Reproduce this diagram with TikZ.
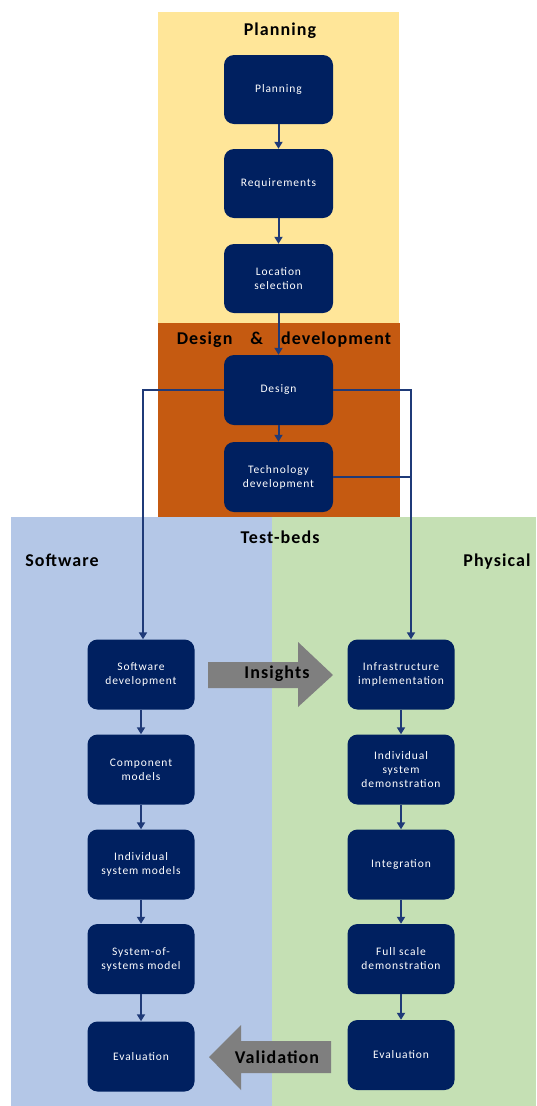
\documentclass[tikz,border=0pt]{standalone}
\usepackage{fontspec}
\setmainfont{Carlito}
\newfontfamily\boxfont{Carlito}[LetterSpace=8]
\newfontfamily\titlefont{Carlito}[LetterSpace=6]
\usetikzlibrary{arrows.meta}
\definecolor{plan}{HTML}{FFE699}
\definecolor{dev}{HTML}{C55A11}
\definecolor{soft}{HTML}{B4C7E7}
\definecolor{phys}{HTML}{C5E0B4}
\definecolor{navy}{HTML}{002060}
\definecolor{linec}{HTML}{1F3A78}
\definecolor{arrowgray}{HTML}{7F7F7F}
\tikzset{
  stepbox/.style={draw=none, fill=navy, rounded corners=10pt, text=white,
    minimum width=107pt, minimum height=70pt, align=center,
    font=\boxfont\fontsize{11.5}{14}\selectfont, inner sep=2pt},
  title/.style={font=\titlefont\fontsize{18}{21}\selectfont\bfseries, text=black, inner sep=0pt},
  flow/.style={draw=linec, line width=2pt, -{Triangle[width=8pt,length=7pt]}},
  plain/.style={draw=linec, line width=2pt},
  blockarrow/.style={fill=arrowgray, draw=none},
}
\begin{document}
\begin{tikzpicture}[x=1pt,y=-1pt]
\useasboundingbox (0,0) rectangle (536,1106);
% backgrounds
\fill[plan] (158,12) rectangle (399,323);
\fill[dev] (158,323) rectangle (400,517);
\fill[soft] (11,517) rectangle (272,1106);
\fill[phys] (272,517) rectangle (536,1106);
% titles
\node[title] (tplan) at (280,31) {Planning};
\node[title] (tdev) at (284,340) {Design\hspace{18pt}\&\hspace{18pt}development};
\node[title] (ttest) at (280,537) {Test-beds};
\node[title] (tsoft) at (62,560) {Software};
\node[title] (tphys) at (497,562) {Physical};
% block arrows
\fill[blockarrow] (208,662) -- (298,662) -- (298,642) -- (333,675) -- (298,707) -- (298,688) -- (208,688) -- cycle;
\node[title] (ins) at (277,674) {Insights};
\fill[blockarrow] (331,1041) -- (241,1041) -- (241,1025) -- (209,1057) -- (241,1090) -- (241,1073) -- (331,1073) -- cycle;
\node[title] (val) at (277,1057) {Validation};
% top column
\node[stepbox, minimum width=109pt, minimum height=69pt] (p1) at (278.5,89.5) {Planning};
\node[stepbox, minimum width=109pt, minimum height=69pt] (p2) at (278.5,183.5) {Requirements};
\node[stepbox, minimum width=109pt, minimum height=69pt] (p3) at (278.5,278.5) {Location\\selection};
\node[stepbox, minimum width=109pt, minimum height=70pt] (d1) at (278.5,390) {Design};
\node[stepbox, minimum width=109pt, minimum height=70pt] (d2) at (278.5,477) {Technology\\development};
% software column
\node[stepbox] (s1) at (141,674.5) {Software\\development};
\node[stepbox] (s2) at (141,769.5) {Component\\models};
\node[stepbox] (s3) at (141,864.5) {Individual\\system models};
\node[stepbox] (s4) at (141,959) {System-of-\\systems model};
\node[stepbox] (s5) at (141,1056.5) {Evaluation};
% physical column
\node[stepbox] (r1) at (401,674.5) {Infrastructure\\implementation};
\node[stepbox] (r2) at (401,769.5) {Individual\\system\\demonstration};
\node[stepbox] (r3) at (401,864.5) {Integration};
\node[stepbox] (r4) at (401,959) {Full scale\\demonstration};
\node[stepbox] (r5) at (401,1055) {Evaluation};
% connectors
\draw[flow] (p1) -- (p2);
\draw[flow] (p2) -- (p3);
\draw[flow] (p3) -- (d1);
\draw[flow] (d1) -- (d2);
\draw[flow] (s1) -- (s2);
\draw[flow] (s2) -- (s3);
\draw[flow] (s3) -- (s4);
\draw[flow] (s4) -- (s5);
\draw[flow] (r1) -- (r2);
\draw[flow] (r2) -- (r3);
\draw[flow] (r3) -- (r4);
\draw[flow] (r4) -- (r5);
\coordinate (lj) at (143,390);
\coordinate (rj) at (411,390);
\draw[flow] (d1.west) -- (lj) -- (lj |- s1.north);
\draw[flow] (d1.east) -- (rj) -- (rj |- r1.north);
\draw[plain] (d2.east) -- (d2.east -| rj);
\end{tikzpicture}
\end{document}
